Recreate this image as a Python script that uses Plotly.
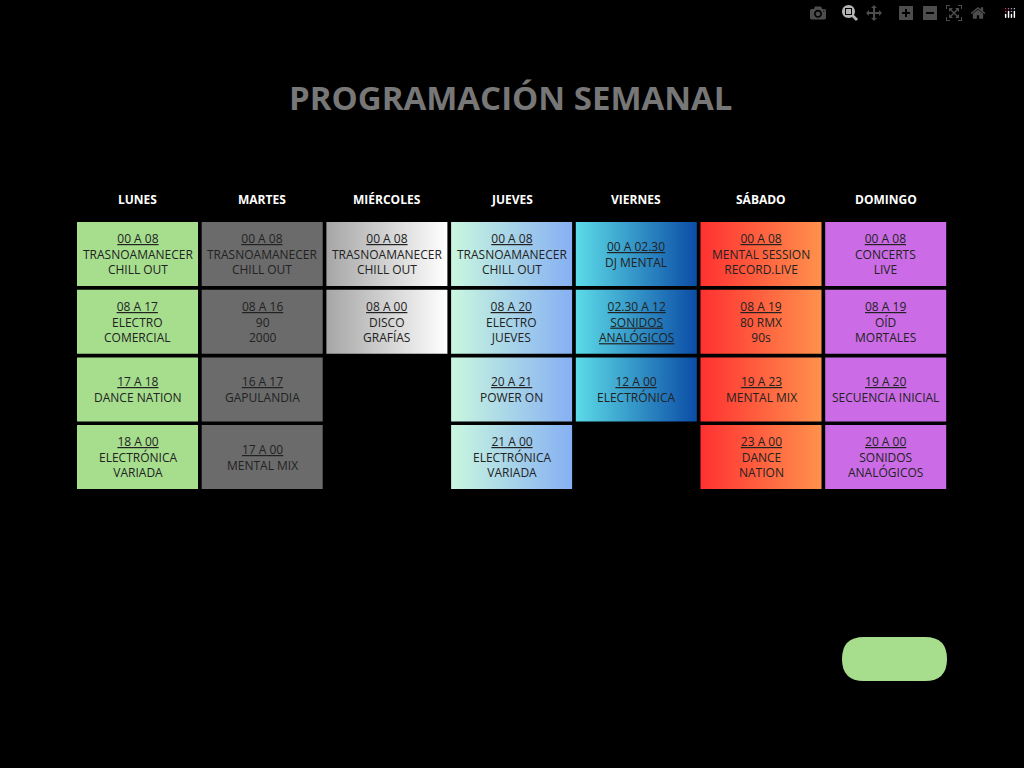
import plotly.graph_objects as go

days = ["LUNES", "MARTES", "MIÉRCOLES", "JUEVES", "VIERNES", "SÁBADO", "DOMINGO"]

# each slot: (hours, programme lines)
lunes = [("00 A 08", "TRASNOAMANECER<br>CHILL OUT"), ("08 A 17", "ELECTRO<br>COMERCIAL"),
         ("17 A 18", "DANCE NATION"), ("18 A 00", "ELECTRÓNICA<br>VARIADA")]
martes = [("00 A 08", "TRASNOAMANECER<br>CHILL OUT"), ("08 A 16", "90<br>2000"),
          ("16 A 17", "GAPULANDIA"), ("17 A 00", "MENTAL MIX")]
miercoles = [("00 A 08", "TRASNOAMANECER<br>CHILL OUT"), ("08 A 00", "DISCO<br>GRAFÍAS")]
jueves = [("00 A 08", "TRASNOAMANECER<br>CHILL OUT"), ("08 A 20", "ELECTRO<br>JUEVES"),
          ("20 A 21", "POWER ON"), ("21 A 00", "ELECTRÓNICA<br>VARIADA")]
viernes = [("00 A 02.30", "DJ MENTAL"), ("02.30 A 12", "<u>SONIDOS</u><br><u>ANALÓGICOS</u>"),
           ("12 A 00", "ELECTRÓNICA")]
sabado = [("00 A 08", "MENTAL SESSION<br>RECORD.LIVE"), ("08 A 19", "80 RMX<br>90s"),
          ("19 A 23", "MENTAL MIX"), ("23 A 00", "DANCE<br>NATION")]
domingo = [("00 A 08", "CONCERTS<br>LIVE"), ("08 A 19", "OÍD<br>MORTALES"),
           ("19 A 20", "SECUENCIA INICIAL"), ("20 A 00", "SONIDOS<br>ANALÓGICOS")]
schedule = [lunes, martes, miercoles, jueves, viernes, sabado, domingo]

colors = [("#a6de8e", "#a6de8e"), ("#6b6b6b", "#6b6b6b"), ("#a6a6a6", "#ffffff"),
          ("#c9f7df", "#86b0f3"), ("#5cdbe8", "#0b4da6"), ("#ff3131", "#ff914d"),
          ("#cb6ce6", "#cb6ce6")]

x0, col_pitch, cw = 77, 124.7, 121
y0, row_pitch, ch = 222, 67.7, 64

fig = go.Figure()
for c, (day, slots) in enumerate(zip(days, schedule)):
    left = x0 + c * col_pitch
    fig.add_annotation(x=left + cw / 2, y=199, text=f"<b>{day}</b>", showarrow=False,
                       font=dict(family="Open Sans", size=12, color="white"))
    for r, (hours, prog) in enumerate(slots):
        top = y0 + r * row_pitch
        fig.add_trace(go.Scatter(
            x=[left, left + cw, left + cw, left, left],
            y=[top, top, top + ch, top + ch, top],
            mode="lines", line=dict(width=0), fill="toself",
            fillgradient=dict(type="horizontal",
                              colorscale=[[0, colors[c][0]], [1, colors[c][1]]]),
            hoverinfo="skip", showlegend=False))
        fig.add_annotation(x=left + cw / 2, y=top + ch / 2,
                           text=f"<u>{hours}</u><br>{prog}", showarrow=False,
                           font=dict(family="Open Sans", size=12, color="#222222"))

fig.add_annotation(x=511, y=97, text="<b>PROGRAMACIÓN SEMANAL</b>", showarrow=False,
                   font=dict(family="Open Sans", size=33, color="#777777"))
fig.add_shape(type="path",
              path="M 864 637 L 925 637 Q 947 637 947 659 Q 947 681 925 681 "
                   "L 864 681 Q 842 681 842 659 Q 842 637 864 637 Z",
              fillcolor="#a6de8e", line_width=0)

fig.update_xaxes(range=[0, 1024], visible=False)
fig.update_yaxes(range=[768, 0], visible=False)
fig.update_layout(width=1024, height=768, margin=dict(l=0, r=0, t=0, b=0),
                  paper_bgcolor="black", plot_bgcolor="black")
fig.write_html("out.html",
               post_script="document.body.style.margin='0';"
                           "document.body.style.background='black';")
